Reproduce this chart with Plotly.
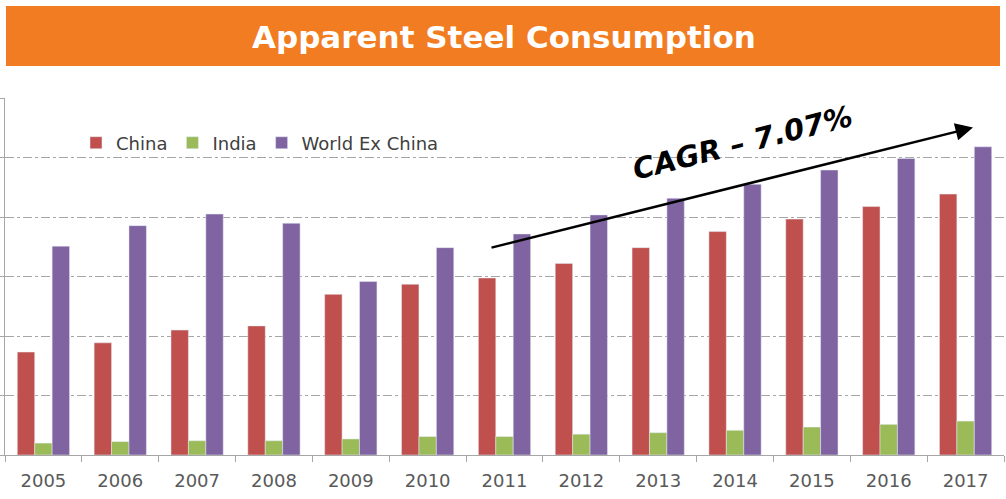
import plotly.graph_objects as go

years = ["2005", "2006", "2007", "2008", "2009", "2010", "2011",
         "2012", "2013", "2014", "2015", "2016", "2017"]
china = [346, 377, 420, 434, 540, 574, 595, 644, 697, 751, 793, 835, 877]
india = [40, 45, 48, 48, 54, 62, 62, 70, 75, 83, 94, 103, 114]
world_ex_china = [702, 771, 810, 779, 583, 697, 743, 807, 863, 910, 958, 997, 1036]

title_text = "Apparent Steel Consumption"
cagr_text = "CAGR – 7.07%"

W, H = 1006, 499
ml, mr, mt, mb = 5, 2, 98, 44
pw, ph = W - ml - mr, H - mt - mb


def px(x):
    return (x - ml) / pw


def py(y):
    return (H - mb - y) / ph


fig = go.Figure()
fig.add_bar(x=years, y=china, name="China", marker_color="#C0504D")
fig.add_bar(x=years, y=india, name="India", marker_color="#9BBB59")
fig.add_bar(x=years, y=world_ex_china, name="World Ex China", marker_color="#8064A2")

fig.update_layout(
    width=W, height=H,
    margin=dict(l=ml, r=mr, t=mt, b=mb),
    paper_bgcolor="white", plot_bgcolor="white",
    barmode="group", bargap=0.32, bargroupgap=0,
    font=dict(family="DejaVu Sans", color="#404040"),
    legend=dict(orientation="h", x=px(76), xanchor="left", y=py(143), yanchor="middle",
                font=dict(family="DejaVu Sans", size=18, color="#404040"),
                bgcolor="rgba(0,0,0,0)"),
    xaxis=dict(type="category", range=[-0.5, 12.5], showline=True, linecolor="#a6a6a6",
               linewidth=1, ticks="outside", tickson="boundaries", ticklen=6,
               tickcolor="#a6a6a6", showgrid=False,
               tickfont=dict(family="DejaVu Sans", size=18, color="#595959"),
               ticklabelstandoff=9),
    yaxis=dict(range=[0, 1200], dtick=200, showticklabels=False, showline=True,
               linecolor="#a6a6a6", ticks="outside", ticklen=4, tickcolor="#a6a6a6",
               showgrid=True, gridcolor="#a6a6a6", griddash="dashdot", gridwidth=1,
               zeroline=False),
)

fig.add_shape(type="rect", xref="paper", yref="paper",
              x0=px(6), x1=px(1000), y0=py(66), y1=py(6),
              fillcolor="#F27C21", line_width=0, layer="above")

fig.add_annotation(xref="paper", yref="paper", x=px(504), y=py(37), text=title_text,
                   showarrow=False, xanchor="center", yanchor="middle",
                   font=dict(family="DejaVu Sans", size=31, color="white", weight="bold"))

fig.add_annotation(xref="paper", yref="paper", x=px(973), y=py(127.5),
                   ax=490 - 973, ay=248 - 127.5, axref="pixel", ayref="pixel",
                   text="", showarrow=True, arrowhead=2, arrowsize=1.4,
                   arrowwidth=2.5, arrowcolor="black", standoff=0, startstandoff=0)

fig.add_annotation(xref="paper", yref="paper", x=px(742), y=py(143), text=cagr_text,
                   showarrow=False, textangle=-14, xanchor="center", yanchor="middle",
                   font=dict(family="DejaVu Sans", size=29, color="black",
                             weight="bold", style="italic"))

fig.write_html("out.html", config={"displayModeBar": False},
               post_script="document.body.style.margin='0';")
